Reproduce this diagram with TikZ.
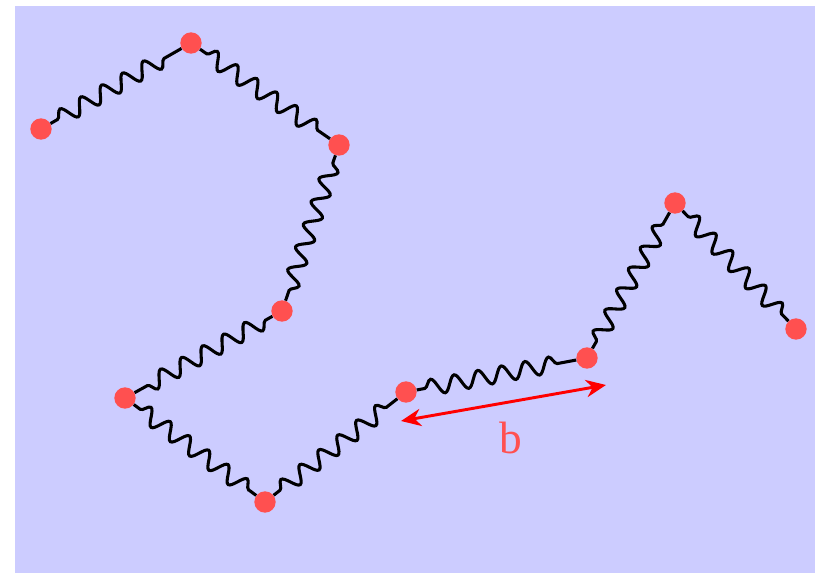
\documentclass[tikz,border=0pt]{standalone}
\usepackage{fontspec}
\setmainfont{Liberation Serif}
\usetikzlibrary{decorations.pathmorphing,arrows.meta}
\definecolor{bg}{RGB}{204,204,255}
\definecolor{dot}{RGB}{255,80,80}
\tikzset{
  bead/.style={circle,fill=dot,inner sep=0pt,minimum size=16pt},
  spring/.style={line width=2.3pt,decorate,decoration={snake,amplitude=6pt,segment length=18pt,pre length=6pt,post length=6pt}},
  dimarrow/.style={line width=2.2pt,red,{Stealth[length=15pt,width=13pt]}-{Stealth[length=15pt,width=13pt]}}
}
\begin{document}
\begin{tikzpicture}[x=0.75pt,y=-0.75pt]
\useasboundingbox (0,0) rectangle (818,573);
\fill[bg] (15,6) rectangle (815,573);
\node[bead] (n1) at (41,129) {};
\node[bead] (n2) at (191,43) {};
\node[bead] (n3) at (339,145) {};
\node[bead] (n4) at (282,311) {};
\node[bead] (n5) at (125,398) {};
\node[bead] (n6) at (265,502) {};
\node[bead] (n7) at (406,392) {};
\node[bead] (n8) at (587,358) {};
\node[bead] (n9) at (675,203) {};
\node[bead] (n10) at (796,329) {};
\draw[spring] (n1) -- (n2);
\draw[spring] (n2) -- (n3);
\draw[spring] (n3) -- (n4);
\draw[spring] (n4) -- (n5);
\draw[spring] (n5) -- (n6);
\draw[spring] (n6) -- (n7);
\draw[spring] (n7) -- (n8);
\draw[spring] (n8) -- (n9);
\draw[spring] (n9) -- (n10);
\coordinate (a1) at (401,421);
\coordinate (a2) at (606,385);
\draw[dimarrow] (a1) -- (a2);
\node[text=dot,font=\fontsize{34}{34}\selectfont] (lb) at (511,438) {b};
\end{tikzpicture}
\end{document}
